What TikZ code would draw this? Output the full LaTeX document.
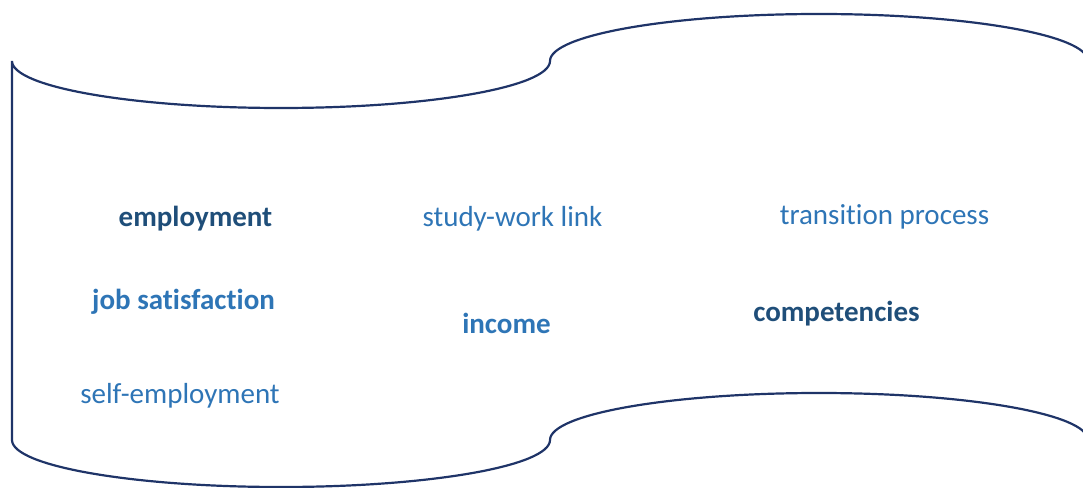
\documentclass[tikz,border=0pt]{standalone}
\usepackage{fontspec}
\setmainfont{Carlito}[Ligatures={NoCommon}]
\definecolor{shapeline}{HTML}{1F3468}
\definecolor{darktext}{HTML}{1F4E79}
\definecolor{lighttext}{HTML}{2E75B6}
\begin{document}
\begin{tikzpicture}[x=1pt,y=1pt,
  tape/.style={draw=shapeline,line width=2.2pt},
  lbl/.style={anchor=base,inner sep=0pt,font=\fontsize{29}{34}\selectfont},
  darkbold/.style={lbl,text=darktext,font=\fontsize{29}{34}\selectfont\bfseries},
  lightbold/.style={lbl,text=lighttext,font=\fontsize{29}{34}\selectfont\bfseries},
  light/.style={lbl,text=lighttext}]
\useasboundingbox (0,0) rectangle (1083,487);
\clip (0,0) rectangle (1083,487);
\draw[tape] (12,426)
  arc[start angle=180,end angle=360,x radius=269,y radius=47]
  arc[start angle=180,end angle=0,x radius=269,y radius=47]
  -- (1088,47)
  arc[start angle=0,end angle=180,x radius=269,y radius=47]
  arc[start angle=0,end angle=-180,x radius=269,y radius=47]
  -- cycle;
\node[darkbold] (employment) at (195.5,260) {employment};
\node[light] (studywork) at (512.5,260) {study-work link};
\node[light] (transition) at (884.5,262) {transition process};
\node[lightbold] (jobsat) at (183.5,177) {job satisfaction};
\node[lightbold] (income) at (506.5,153) {income};
\node[darkbold] (competencies) at (836.5,165) {competencies};
\node[light] (selfemp) at (180,83) {self-employment};
\end{tikzpicture}
\end{document}
